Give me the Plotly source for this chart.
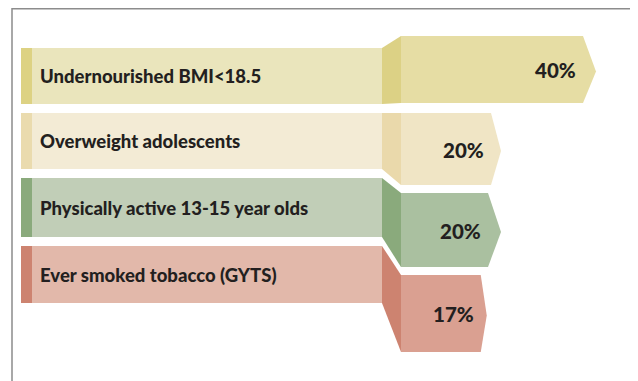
import plotly.graph_objects as go

# ---- data ----
categories = ["Undernourished BMI<18.5", "Overweight adolescents",
              "Physically active 13-15 year olds", "Ever smoked tobacco (GYTS)"]
values = [40, 20, 20, 17]
value_labels = ["40%", "20%", "20%", "17%"]

# ---- styles / layout geometry (screen pixels) ----
W, H = 638, 381
OFF = 8  # page body margin: figure sits at (8, 8) in the window
FW, FH = W - OFF, H - OFF
BOX_L, STRIP_R, BOX_R, BAR_L = 21, 32, 382, 401
ZERO_PX = 406  # where 0% falls on the value scale
K = 4.75       # px per percent
X2_MIN = -(ZERO_PX - BAR_L) / K
box_y = [(48, 104), (113, 169), (178, 237), (246, 303)]
bar_y = [(36, 103), (113, 185), (193, 267), (275, 352)]
tip_px = [13, 10, 13, 6]
strip_col = ["#DDD283", "#EADBAE", "#8AAA7C", "#CD8370"]
box_col = ["#EAE5BC", "#F3EBD5", "#C1CEB7", "#E2B8AA"]
fold_col = ["#DCD185", "#EAD9AB", "#8AAA7C", "#CD8370"]
bar_col = ["#E6DDA4", "#F0E5C5", "#AAC0A0", "#DAA091"]
TXT = "#231F20"
FONT = "Lato"

fig = go.Figure()

for i, cat in enumerate(categories):
    bt, bb = box_y[i]
    rt, rb = bar_y[i]
    fig.add_trace(go.Scatter(x=[BOX_L, BOX_R, BOX_R, BOX_L, BOX_L], y=[bt, bt, bb, bb, bt],
                             fill="toself", fillcolor=box_col[i], mode="none",
                             hoverinfo="skip", showlegend=False))
    fig.add_trace(go.Scatter(x=[BOX_L, STRIP_R, STRIP_R, BOX_L, BOX_L], y=[bt, bt, bb, bb, bt],
                             fill="toself", fillcolor=strip_col[i], mode="none",
                             hoverinfo="skip", showlegend=False))
    fig.add_trace(go.Scatter(x=[BOX_R, BAR_L, BAR_L, BOX_R, BOX_R], y=[bt, rt, rb, bb, bt],
                             fill="toself", fillcolor=fold_col[i], mode="none",
                             hoverinfo="skip", showlegend=False))
    v = values[i]
    t = tip_px[i] / K
    mid = (rt + rb) / 2 + 2
    fig.add_trace(go.Scatter(x=[X2_MIN, v - t, v, v - t, X2_MIN, X2_MIN],
                             y=[rt, rt, mid, rb, rb, rt],
                             xaxis="x2", yaxis="y",
                             fill="toself", fillcolor=bar_col[i], mode="none",
                             hoverinfo="skip", showlegend=False))
    fig.add_annotation(x=38, y=(bt + bb) / 2, xref="x", yref="y", text=cat,
                       showarrow=False, xanchor="left", yanchor="middle",
                       font=dict(family=FONT, size=18.5, color=TXT, weight=900))
    fig.add_annotation(x=v, y=mid - 1.5, xref="x2", yref="y", text=value_labels[i],
                       showarrow=False, xanchor="right", yanchor="middle",
                       xshift=-(tip_px[i] + 5),
                       font=dict(family=FONT, size=20.5, color=TXT, weight=900))

# frame (open at the bottom)
fig.add_shape(type="path", xref="x", yref="y",
              path="M 12,400 L 12,8.8 L 632,8.8 L 632,400",
              line=dict(color="#8C8C8C", width=1.5), layer="above")

fig.update_layout(
    width=FW, height=FH, margin=dict(l=0, r=0, t=0, b=0, pad=0),
    paper_bgcolor="rgba(0,0,0,0)", plot_bgcolor="rgba(0,0,0,0)",
    xaxis=dict(range=[OFF, W], domain=[0, 1], visible=False, fixedrange=True, autorange=False),
    xaxis2=dict(range=[X2_MIN, (W - ZERO_PX) / K], domain=[(BAR_L - OFF) / FW, 1],
                visible=False, anchor="y", fixedrange=True, autorange=False),
    yaxis=dict(range=[H, OFF], visible=False, fixedrange=True, autorange=False),
)

fig.write_html("out.html")
